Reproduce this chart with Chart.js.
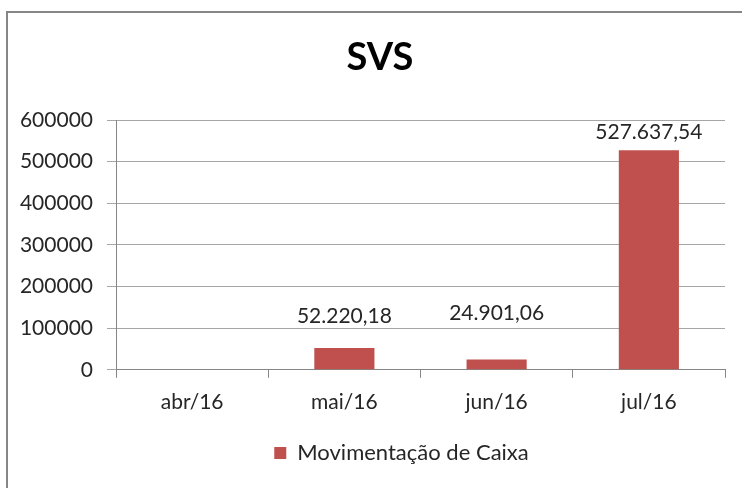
<!DOCTYPE html>
<html>
<head>
<meta charset="utf-8">
<script src="https://cdn.jsdelivr.net/npm/chart.js@4"></script>
<style>
  html, body { margin: 0; padding: 0; background: #fff; overflow: hidden; }
  #wrap { width: 742px; height: 488px; }
</style>
</head>
<body>
<div id="wrap"><canvas id="c" width="742" height="488"></canvas></div>
<script>
// data
var months = ['abr/16', 'mai/16', 'jun/16', 'jul/16']
var caixa = [null, 52220.18, 24901.06, 527637.54]
var seriesName = 'Movimentação de Caixa'
var chartTitle = 'SVS'
var yTicks = [0, 100000, 200000, 300000, 400000, 500000, 600000]

var fontFam = 'Lato, "Open Sans", sans-serif'
var txt = '#262626'
var barColor = '#C0504D'

// brazilian number format, 2 decimals
function fmtBR(v){
    var parts = v.toFixed(2).split('.')
    var int = parts[0].replace(/\B(?=(\d{3})+(?!\d))/g, '.')
    return int + ',' + parts[1]
}

// frame like the excel chart box + title centred on the whole box
var framePlugin = {
    id: 'frame',
    afterLayout: function(chart){
        // legend sits a bit right of centre in the original
        chart.legend.left += 35
        chart.legend.right += 35
    },
    beforeDraw: function(chart){
        var ctx = chart.ctx
        ctx.save()
        ctx.strokeStyle = '#868686'
        ctx.lineWidth = 2
        ctx.strokeRect(7, 12, 900, 700)
        ctx.font = 'bold 38px ' + fontFam
        ctx.fillStyle = '#000'
        ctx.textAlign = 'center'
        ctx.textBaseline = 'middle'
        ctx.fillText(chartTitle, 380, 58)
        ctx.restore()
    }
}

// value labels above bars (offsets as placed in the original)
var labelPlugin = {
    id: 'barLabels',
    afterDatasetsDraw: function(chart, args, opts){
        var ctx = chart.ctx
        var meta = chart.getDatasetMeta(0)
        ctx.save()
        ctx.font = '21px ' + fontFam
        ctx.fillStyle = txt
        ctx.textAlign = 'center'
        ctx.textBaseline = 'middle'
        meta.data.forEach(function(bar, i){
            var v = chart.data.datasets[0].data[i]
            if (v === null || v === undefined) return
            ctx.fillText(fmtBR(v), bar.x, bar.y - opts.offsets[i])
        })
        ctx.restore()
    }
}

var ctx = document.getElementById('c').getContext('2d')
var chart = new Chart(ctx, {
    type: 'bar',
    data: {
        labels: months,
        datasets: [{
            label: seriesName,
            data: caixa,
            backgroundColor: barColor,
            borderWidth: 0,
            categoryPercentage: 1,
            barPercentage: 0.395
        }]
    },
    options: {
        responsive: false,
        animation: false,
        layout: { padding: { left: 8, right: 17, top: 120, bottom: 14 } },
        plugins: {
            title: { display: false },
            legend: {
                position: 'bottom',
                labels: {
                    color: txt,
                    font: { family: fontFam, size: 22 },
                    boxWidth: 12,
                    boxHeight: 12,
                    padding: 15
                }
            },
            tooltip: { enabled: false },
            barLabels: { offsets: [0, 32, 46, 18] }
        },
        scales: {
            x: {
                grid: { drawOnChartArea: false, drawTicks: true, tickLength: 8, color: '#868686' },
                border: { color: '#868686', width: 1 },
                ticks: { color: txt, font: { family: fontFam, size: 21 }, padding: 12 }
            },
            y: {
                min: 0,
                max: 600000,
                afterFit: function(scale){ scale.width = 108 },
                afterBuildTicks: function(scale){
                    scale.ticks = yTicks.map(function(v){ return { value: v } })
                },
                grid: { color: '#a6a6a6', tickLength: 9, drawTicks: true },
                border: { color: '#868686', width: 1 },
                ticks: {
                    color: txt,
                    font: { family: fontFam, size: 21 },
                    padding: 14,
                    callback: function(v){ return String(v) }
                }
            }
        }
    },
    plugins: [framePlugin, labelPlugin]
})
</script>
</body>
</html>
